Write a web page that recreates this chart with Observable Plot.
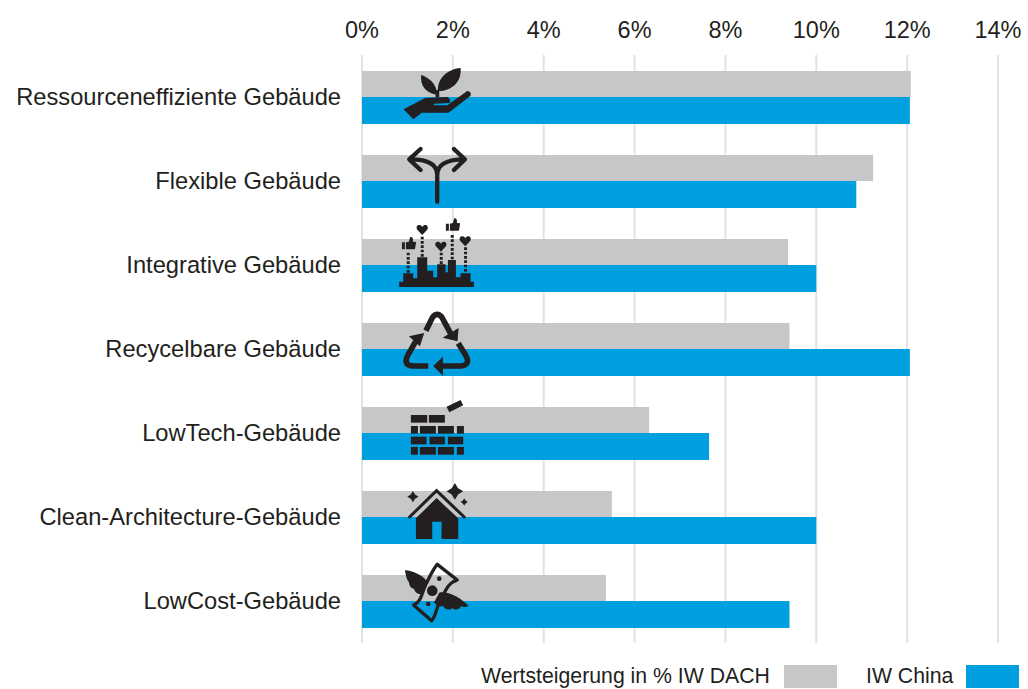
<!DOCTYPE html>
<html lang="de">
<head>
<meta charset="utf-8">
<script src="https://cdn.jsdelivr.net/npm/d3@7"></script>
<script src="https://cdn.jsdelivr.net/npm/@observablehq/plot@0.6"></script>
<style>
  html,body{margin:0;padding:0;background:#fff;overflow:hidden}
  #wrap{position:relative;width:1028px;height:689px;font-family:"Liberation Sans",Arial,sans-serif;color:#231f20}
  #legend{position:absolute;left:0;top:655px;width:1028px;height:34px;font-size:21.25px}
  #legend span{position:absolute;top:10px;line-height:23px;white-space:nowrap}
  #legend i{position:absolute;top:10px;width:53px;height:23px;display:block}
</style>
</head>
<body>
<div id="wrap"></div>
<script>
const categories = ["Ressourceneffiziente Gebäude","Flexible Gebäude","Integrative Gebäude","Recycelbare Gebäude","LowTech-Gebäude","Clean-Architecture-Gebäude","LowCost-Gebäude"];
const valuesDach  = [12.08,11.25,9.38,9.41,6.32,5.5,5.37];
const valuesChina = [12.06,10.88,10.0,12.06,7.64,10.0,9.41];
const xTicks = [0,2,4,6,8,10,12,14];
const seriesNames = ["Wertsteigerung in % IW DACH","IW China"];
const iconAnchorX = 1.645;

const INK="#231f20", GREY="#c6c7c8", BLUE="#009fdf", GRID="#e2e2e2";

const heart=(x,y)=>`<path transform="translate(${x} ${y})" d="M0 17L-15 1C-22 -11 -7 -19 0 -7C7 -19 22 -11 15 1Z"/>`;
const thumb=(x,y)=>`<path transform="translate(${x} ${y})" d="M-22 -9h9v21h-9zM-10 -9L-1 -11L3 -25Q13 -27 11 -11L21 -10L17 12L-10 12Z"/>`;
const star=(x,y,r)=>`<path transform="translate(${x} ${y}) scale(${r})" d="M0 -1L.38 -.38L1 0L.38 .38L0 1L-.38 .38L-1 0L-.38 -.38Z"/>`;
const bricks=[[183,345,49],[237,345,48],[183,378,21],[210,378,48],[264,378,48],[321,378,21],[183,410,47],[239,410,46],[294,410,46],[183,441,21],[210,441,48],[264,441,48],[321,441,21]]
  .map(b=>`<rect x="${b[0]}" y="${b[1]}" width="${b[2]}" height="23"/>`).join("");

const iconDefs = [
 {cy:112.5, body:`<path d="M260 104C263 84 250 58 214 44C210 76 226 98 260 104Z"/><path d="M264 94C262 56 290 28 332 24C336 62 310 92 264 94Z"/><rect x="257" y="90" width="11" height="22"/><path d="M161 148L226 114L292 111Q305 118 299 129L252 131L252 136L292 136L352 93Q366 95 362 107L296 158L216 158L190 178Z"/>`},
 {cy:364.5, body:`<path fill="none" stroke="${INK}" stroke-width="13" stroke-linecap="round" stroke-linejoin="round" d="M262 425L262 345C262 315 235 298 182 298M262 345C262 315 290 298 342 298M212 267L178 298L212 330M312 267L345 298L312 330"/>`},
 {cy:616.5, body:`<path d="M148 681V665H160V640H190V655H202V592H232V632H250V652H262V613H287V637H294V600H318V652H332V640H362V665H372V681Z"/><path fill="none" stroke="${INK}" stroke-width="9" stroke-dasharray="8 5" d="M175 578V640M217 530V592M274 578V613M307 525V600M347 562V640"/>${heart(217,508)}${heart(273,558)}${heart(346,542)}${thumb(178,556)}${thumb(310,500)}`},
 {cy:148.5, body:`<path fill="none" stroke="${INK}" stroke-width="17" d="M228 92L248 52Q262 34 276 52L302 100M235 198L190 198Q158 196 174 165L197 125M275 198L332 198Q364 196 347 165L325 130"/><path d="M326 84L323 124L278 113ZM223 99L177 109L210 139ZM250 198L279 170V227Z"/>`},
 {cy:400.5, body:`${bricks}<path d="M290 320L332 300L340 316L298 337Z"/>`},
 {cy:652.5, body:`<path fill="none" stroke="${INK}" stroke-width="9" d="M176 654L260 572L346 654"/><path d="M260 594L325 655V717H275V665H247V717H198V655Z"/>${star(189,590,17)}${star(315,574,25)}${star(343,606,11)}`},
 {cy:904.5, body:`<path fill="none" stroke="${INK}" stroke-width="10" stroke-linejoin="round" d="M262 793L322 840C290 850 285 880 270 905C258 925 260 945 245 962L191 915C215 905 215 880 227 855C238 835 245 815 262 793Z"/><circle cx="247" cy="872" r="16"/><circle cx="268" cy="836" r="7"/><circle cx="235" cy="912" r="7"/><path d="M165 811C190 812 215 825 230 842L215 882C203 884 195 875 192 866C182 866 178 855 177 846C170 840 168 825 165 811Z"/><path d="M268 878C295 872 335 895 356 918C348 922 340 922 333 919C330 930 315 932 307 924C300 932 285 930 280 918C270 922 260 915 252 908Z"/>`}
];
const iconSrc = d => "data:image/svg+xml," + encodeURIComponent(
  `<svg xmlns="http://www.w3.org/2000/svg" viewBox="${262-180} ${d.cy-180} 360 360" fill="${INK}">${d.body}</svg>`);
const icons = categories.map((c,i)=>({category:c, src:iconSrc(iconDefs[i]), x:iconAnchorX}));
const rowsDach  = categories.map((c,i)=>({category:c, value:valuesDach[i]}));
const rowsChina = categories.map((c,i)=>({category:c, value:valuesChina[i]}));

const chart = Plot.plot({
  width:1028, height:655,
  marginLeft:362, marginRight:30, marginTop:55, marginBottom:12,
  style:{fontFamily:'"Liberation Sans",Arial,sans-serif',background:"transparent",color:INK},
  x:{domain:[0,14], ticks:xTicks, axis:null},
  y:{domain:categories, padding:0, round:false, axis:null},
  marks:[
    Plot.gridX(xTicks,{stroke:GRID,strokeWidth:2,strokeOpacity:1,dx:-0.5}),
    Plot.barX(rowsDach,{x:"value",y:"category",fill:GREY,insetTop:16,insetBottom:42}),
    Plot.barX(rowsChina,{x:"value",y:"category",fill:BLUE,insetTop:42,insetBottom:15}),
    Plot.image(icons,{x:"x",y:"category",src:"src",width:120,height:120}),
    Plot.axisX({anchor:"top",ticks:xTicks,tickSize:0,tickPadding:18,fontSize:23.5,tickFormat:d=>d+"%",label:null,fill:INK,dx:-0.5}),
    Plot.axisY({anchor:"left",tickSize:0,tickPadding:21.5,fontSize:23.7,label:null,fill:INK})
  ]
});
const wrap=document.getElementById("wrap");
wrap.appendChild(chart);
const legend=document.createElement("div");
legend.id="legend";
legend.innerHTML=`<span style="left:481px">${seriesNames[0]}</span><i style="left:784px;background:${GREY}"></i><span style="left:866px">${seriesNames[1]}</span><i style="left:966px;background:${BLUE}"></i>`;
wrap.appendChild(legend);
</script>
</body>
</html>
